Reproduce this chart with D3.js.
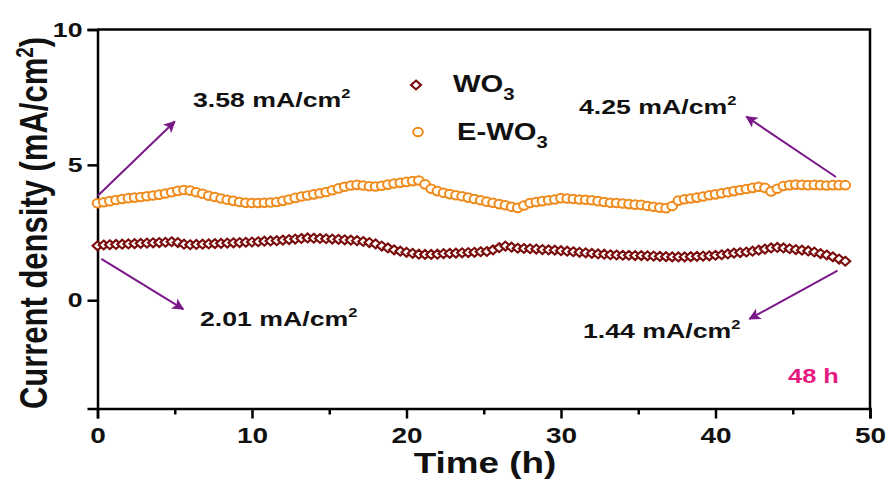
<!DOCTYPE html>
<html>
<head>
<meta charset="utf-8">
<script src="https://cdn.jsdelivr.net/npm/d3@7"></script>
<style>
  body { margin: 0; background: #fff; }
  svg text { font-family: "Liberation Sans", Arial, sans-serif; font-weight: bold; fill: #111; }
</style>
</head>
<body>
<svg width="887" height="484"></svg>
<script>
// time (h) of each sample
const times = [
  0, 0.4, 0.8, 1.2, 1.6, 2.0, 2.4, 2.8, 3.2, 3.6, 4.0, 4.4, 4.8, 5.2, 5.6, 6.0,
  6.4, 6.8, 7.2, 7.6, 8.0, 8.4, 8.8, 9.2, 9.6, 10.0, 10.4, 10.8, 11.2, 11.6, 12.0,
  12.4, 12.8, 13.2, 13.6, 14.0, 14.4, 14.8, 15.2, 15.6, 16.0, 16.4, 16.8, 17.2,
  17.6, 18.0, 18.4, 18.8, 19.2, 19.6, 20.0, 20.4, 20.8, 21.2, 21.6, 22.0, 22.4,
  22.8, 23.2, 23.6, 24.0, 24.4, 24.8, 25.2, 25.6, 26.0, 26.4, 26.8, 27.2, 27.6,
  28.0, 28.4, 28.8, 29.2, 29.6, 30.0, 30.4, 30.8, 31.2, 31.6, 32.0, 32.4, 32.8,
  33.2, 33.6, 34.0, 34.4, 34.8, 35.2, 35.6, 36.0, 36.4, 36.8, 37.2, 37.6, 38.0,
  38.4, 38.8, 39.2, 39.6, 40.0, 40.4, 40.8, 41.2, 41.6, 42.0, 42.4, 42.8, 43.2,
  43.6, 44.0, 44.4, 44.8, 45.2, 45.6, 46.0, 46.4, 46.8, 47.2, 47.6, 48.0, 48.4
];

// WO3 current density (mA/cm2)
const wo3 = [
  2.01, 2.04, 2.05, 2.06, 2.07, 2.08, 2.09, 2.10, 2.11, 2.12, 2.13, 2.14, 2.16, 2.13, 2.07, 2.05,
  2.06, 2.07, 2.08, 2.09, 2.10, 2.11, 2.12, 2.13, 2.14, 2.15, 2.16, 2.18, 2.19, 2.20, 2.22,
  2.24, 2.26, 2.28, 2.30, 2.29, 2.28, 2.27, 2.26, 2.25, 2.23, 2.22, 2.20, 2.17,
  2.13, 2.08, 2.00, 1.93, 1.86, 1.81, 1.77, 1.73, 1.70, 1.69, 1.69, 1.70, 1.72,
  1.73, 1.74, 1.75, 1.76, 1.77, 1.79, 1.80, 1.86, 1.94, 2.00, 1.96, 1.92, 1.91,
  1.90, 1.89, 1.87, 1.86, 1.85, 1.83, 1.81, 1.79, 1.77, 1.75, 1.73, 1.71, 1.70,
  1.68, 1.67, 1.66, 1.66, 1.65, 1.65, 1.64, 1.63, 1.62, 1.61, 1.60, 1.60, 1.60,
  1.61, 1.62, 1.63, 1.64, 1.66, 1.68, 1.71, 1.74, 1.76, 1.78, 1.81, 1.85, 1.89,
  1.93, 1.95, 1.93, 1.90, 1.87, 1.85, 1.82, 1.78, 1.72, 1.67, 1.60, 1.52, 1.44
];

// E-WO3 current density (mA/cm2)
const ewo3 = [
  3.58, 3.62, 3.66, 3.70, 3.74, 3.77, 3.79, 3.81, 3.84, 3.87, 3.90, 3.94, 3.99, 4.04, 4.07, 4.05,
  3.99, 3.93, 3.86, 3.81, 3.76, 3.71, 3.67, 3.63, 3.60, 3.59, 3.59, 3.60, 3.61, 3.63, 3.67,
  3.72, 3.78, 3.83, 3.87, 3.91, 3.95, 4.00, 4.06, 4.13, 4.19, 4.24, 4.26, 4.24,
  4.21, 4.20, 4.23, 4.27, 4.31, 4.34, 4.37, 4.40, 4.42, 4.28, 4.12, 4.03, 3.97,
  3.92, 3.88, 3.84, 3.79, 3.74, 3.69, 3.64, 3.60, 3.55, 3.51, 3.45, 3.41, 3.50,
  3.59, 3.63, 3.66, 3.69, 3.72, 3.77, 3.76, 3.74, 3.72, 3.71, 3.69, 3.66, 3.63,
  3.60, 3.59, 3.57, 3.55, 3.53, 3.52, 3.48, 3.45, 3.42, 3.40, 3.48, 3.68, 3.73,
  3.76, 3.79, 3.83, 3.88, 3.91, 3.95, 3.99, 4.03, 4.07, 4.11, 4.15, 4.19, 4.15,
  4.02, 4.12, 4.22, 4.25, 4.27, 4.26, 4.25, 4.26, 4.25, 4.24, 4.25, 4.25, 4.25
];

const xTicks = [0, 10, 20, 30, 40, 50];
const xMinor = [5, 15, 25, 35, 45];
const yTicks = [0, 5, 10];

// value labels with arrows: [time, value] of the tail and of the head
const notes = [
  { text: '3.58', x: 193, y: 107, from: [0, 3.85], to: [5.0, 6.6] },
  { text: '2.01', x: 200, y: 326, from: [0.25, 1.53], to: [5.55, -0.33] },
  { text: '4.25', x: 579, y: 114, from: [47.8, 4.55], to: [42.0, 6.78] },
  { text: '1.44', x: 583, y: 338, from: [47.9, 1.09], to: [42.2, -0.69] }
];

const width = 887;
const height = 484;
const margin = { left: 97.5, right: 17, top: 29.5, bottom: 75.5 };
const stretch = 1.27; // text in the picture is wider than normal

const svg = d3.select('svg');

const x = d3.scaleLinear().domain([0, 50]).range([margin.left, width - margin.right]);
const y = d3.scaleLinear().domain([-4, 10]).range([height - margin.bottom, margin.top]);

const wo3Color = '#7a0c0c';
const ewoColor = '#f08a1c';
const arrowColor = '#7a1888';

const label = (px, py, size, anchor) => svg.append('text')
    .attr('transform', `translate(${px},${py}) scale(${stretch},1)`)
    .attr('font-size', size)
    .attr('text-anchor', anchor || 'start');

svg.append('defs').append('marker')
    .attr('id', 'head')
    .attr('viewBox', '0 0 10 10')
    .attr('refX', 9)
    .attr('refY', 5)
    .attr('markerWidth', 7)
    .attr('markerHeight', 6)
    .attr('markerUnits', 'strokeWidth')
    .attr('orient', 'auto')
    .append('path')
    .attr('d', 'M0,0 L10,5 L0,10 L2.5,5 Z')
    .attr('fill', arrowColor);

// axes
svg.append('g')
    .attr('transform', `translate(0,${y(-4)})`)
    .call(d3.axisBottom(x).tickValues(xTicks).tickSize(10).tickPadding(6))
    .call(g => g.selectAll('.tick text')
        .attr('font-size', 22)
        .attr('dy', '0.71em')
        .attr('y', 19)
        .attr('transform', `scale(${stretch},1)`));

svg.append('g')
    .attr('transform', `translate(0,${y(-4)})`)
    .call(d3.axisBottom(x).tickValues(xMinor).tickSize(6).tickFormat(''))
    .call(g => g.select('.domain').remove());

svg.append('g')
    .attr('transform', `translate(${x(0)},0)`)
    .call(d3.axisLeft(y).tickValues(yTicks).tickSize(10).tickPadding(6))
    .call(g => g.selectAll('.tick text')
        .attr('font-size', 21)
        .attr('x', -15 / stretch)
        .attr('transform', `scale(${stretch},1)`));

svg.selectAll('.domain').attr('stroke-width', 2.5);
svg.selectAll('.tick line').attr('stroke-width', 2.5);

// frame top and right
svg.append('path')
    .attr('d', `M${x(0)},${y(10)} H${x(50)} V${y(-4)}`)
    .attr('fill', 'none')
    .attr('stroke', '#000')
    .attr('stroke-width', 2.5);

// series
const ewoData = times.map((t, i) => ({ t: t, v: ewo3[i] }));
const wo3Data = times.map((t, i) => ({ t: t, v: wo3[i] }));

svg.append('g').selectAll('ellipse')
    .data(ewoData).enter()
    .append('ellipse')
    .attr('cx', d => x(d.t))
    .attr('cy', d => y(d.v))
    .attr('rx', 4.8)
    .attr('ry', 4.3)
    .attr('fill', '#fffdf5')
    .attr('stroke', ewoColor)
    .attr('stroke-width', 2);

const diamond = d3.symbol().type(d3.symbolDiamond2).size(50);

svg.append('g').selectAll('path')
    .data(wo3Data).enter()
    .append('path')
    .attr('d', diamond)
    .attr('transform', d => `translate(${x(d.t)},${y(d.v)}) scale(1.12,1)`)
    .attr('fill', '#fff')
    .attr('stroke', wo3Color)
    .attr('stroke-width', 2);

// arrows and value labels
notes.forEach(n => {
    svg.append('line')
        .attr('x1', x(n.from[0])).attr('y1', y(n.from[1]))
        .attr('x2', x(n.to[0])).attr('y2', y(n.to[1]))
        .attr('stroke', arrowColor)
        .attr('stroke-width', 2)
        .attr('marker-end', 'url(#head)');
    const t = label(n.x, n.y, 21);
    t.append('tspan').text(`${n.text} mA/cm`);
    t.append('tspan').attr('dy', -9).attr('font-size', 13).text('2');
});

// legend
svg.append('path')
    .attr('d', diamond)
    .attr('transform', 'translate(416,85) scale(1.12,1)')
    .attr('fill', '#fff')
    .attr('stroke', wo3Color)
    .attr('stroke-width', 2);
svg.append('ellipse')
    .attr('cx', 418).attr('cy', 132).attr('rx', 4.8).attr('ry', 4.3)
    .attr('fill', '#fffdf5')
    .attr('stroke', ewoColor)
    .attr('stroke-width', 2);

[['WO', 453, 92], ['E-WO', 457, 140]].forEach(([name, lx, ly]) => {
    const t = label(lx, ly, 23);
    t.append('tspan').text(name);
    t.append('tspan').attr('dy', 8).attr('font-size', 16).text('3');
});

// 48 h label
label(788, 383, 20).style('fill', '#e6197f').text('48 h');

// axis titles
label(485, 473, 29, 'middle').text('Time (h)');

const yTitle = svg.append('text')
    .attr('transform', `translate(47,223) scale(${stretch},1) rotate(-90)`)
    .attr('text-anchor', 'middle')
    .attr('font-size', 31);
yTitle.append('tspan').text('Current density (mA/cm');
yTitle.append('tspan').attr('dy', -11).attr('font-size', 19).text('2');
yTitle.append('tspan').attr('dy', 11).text(')');
</script>
</body>
</html>
